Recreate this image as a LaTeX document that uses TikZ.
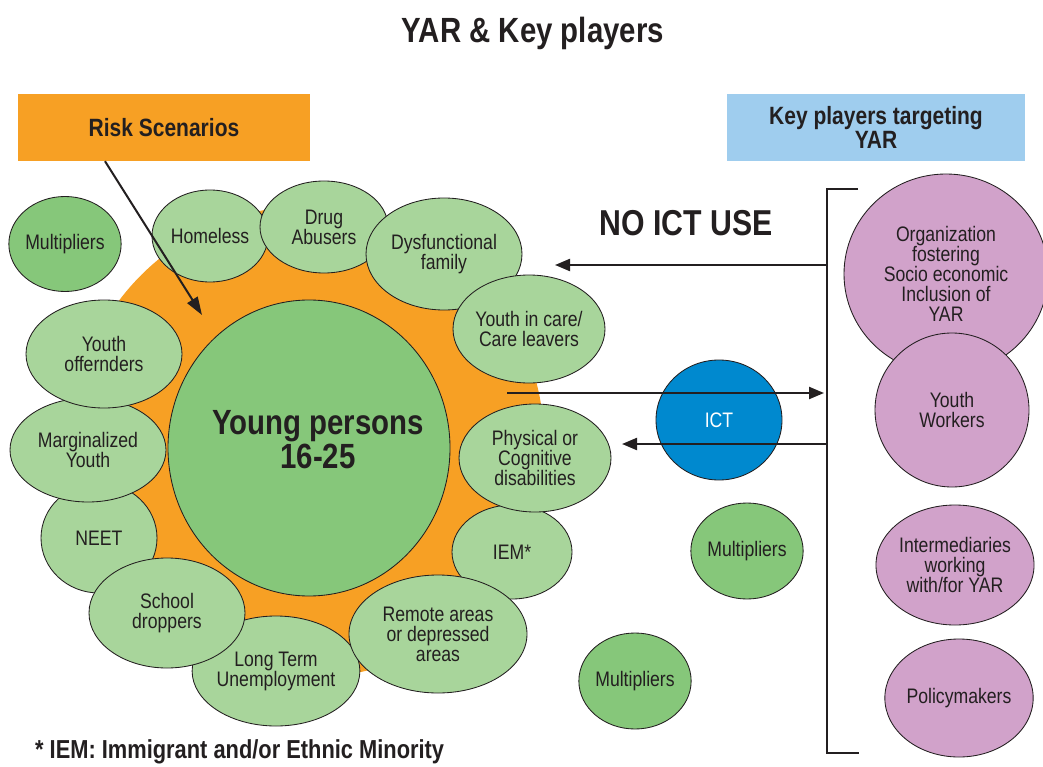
\documentclass[tikz,border=0pt]{standalone}
\usepackage{fontspec}
\setmainfont[FakeStretch=0.84]{Liberation Sans}
\usetikzlibrary{shapes.geometric,arrows.meta}
\definecolor{orangeC}{HTML}{F7A024}
\definecolor{lgreen}{HTML}{A8D59B}
\definecolor{dgreen}{HTML}{86C77A}
\definecolor{purp}{HTML}{D1A2CA}
\definecolor{blueC}{HTML}{0089CF}
\definecolor{lblue}{HTML}{9FCDEE}
\definecolor{txt}{HTML}{231F20}
\begin{document}
\begin{tikzpicture}[x=1pt,y=-1pt,
  bub/.style={ellipse, draw=txt, line width=0.85pt, inner sep=0pt, align=center,
              font=\fontsize{21}{20}\selectfont, text=txt},
  risk/.style={bub, fill=lgreen},
  mult/.style={bub, fill=dgreen},
  kp/.style={bub, fill=purp},
  hdr/.style={rectangle, inner sep=0pt, align=center, text=txt,
              font=\fontsize{25}{24}\selectfont\bfseries},
  arr/.style={line width=2.2pt, draw=txt, -{Triangle[length=15pt,width=12pt]}},
  bigtxt/.style={align=center, text=txt, inner sep=0pt}
]
\useasboundingbox (0,0) rectangle (1043,767);
\fill[white] (0,0) rectangle (1043,767);

% title
\node[bigtxt, font=\fontsize{35}{35}\selectfont\bfseries] (title) at (533,33) {YAR \& Key players};

% header boxes
\node[hdr, fill=orangeC, minimum width=292pt, minimum height=67pt] (riskbox) at (164,127.5) {Risk Scenarios};
\node[hdr, fill=lblue, minimum width=298pt, minimum height=67pt] (keybox) at (876,127.5) {Key players targeting\\YAR};

% orange background circle and young persons
\node[circle, fill=orangeC, minimum size=472pt, inner sep=0pt] (orangeBg) at (308,442) {};
\node[mult, minimum width=282pt, minimum height=296pt] (young) at (309,448) {};
\node[bigtxt, font=\fontsize{35}{34}\selectfont\bfseries] (youngtxt) at (318,440) {Young persons\\16-25};

% risk scenario bubbles
\node[mult, minimum width=94pt, minimum height=95pt] (mulTL) at (65,244) {Multipliers};
\node[risk, minimum width=116pt, minimum height=92pt] (homeless) at (210,236) {Homeless};
\node[risk, minimum width=128pt, minimum height=92pt] (drug) at (324,227) {Drug\\Abusers};
\node[risk, minimum width=156pt, minimum height=112pt] (dysf) at (444,254) {Dysfunctional\\family};
\node[risk, minimum width=152pt, minimum height=108pt] (care) at (529,329) {Youth in care/\\Care leavers};
\node[risk, minimum width=120pt, minimum height=94pt] (iem) at (512,552) {IEM*};
\node[risk, minimum width=152pt, minimum height=108pt] (phys) at (535,458) {Physical or\\Cognitive\\disabilities};
\node[risk, minimum width=156pt, minimum height=110pt] (longterm) at (276,671) {Long Term\\Unemployment};
\node[risk, minimum width=178pt, minimum height=118pt] (remote) at (438,634) {Remote areas\\or depressed\\areas};
\node[risk, minimum width=116pt, minimum height=110pt] (neet) at (99,538) {NEET};
\node[risk, minimum width=156pt, minimum height=110pt] (school) at (167,613) {School\\droppers};
\node[risk, minimum width=156pt, minimum height=104pt] (marg) at (88,450) {Marginalized\\Youth};
\node[risk, minimum width=156pt, minimum height=108pt] (offend) at (104,354) {Youth\\offernders};

% risk arrow
\coordinate (riskTip) at (202,315);
\draw[line width=2pt, draw=txt, -{Triangle[length=18pt,width=12pt]}] ([xshift=-59pt]riskbox.south) -- (riskTip);

% middle
\node[bub, fill=blueC, text=white, minimum width=126pt, minimum height=120pt] (ict) at (719,420) {ICT};
\node[mult, minimum width=104pt, minimum height=96pt] (mulM) at (747,551) {Multipliers};
\node[mult, minimum width=104pt, minimum height=96pt] (mulB) at (635,681) {Multipliers};

\node[bigtxt, font=\fontsize{36}{36}\selectfont\bfseries] (noict) at (686,223) {NO ICT USE};

% key players
\node[kp, minimum width=204pt, minimum height=200pt] (org) at (946,274) {Organization\\fostering\\Socio economic\\Inclusion of\\YAR};
\node[kp, minimum width=154pt, minimum height=154pt] (yw) at (952,410) {Youth\\Workers};
\node[kp, minimum width=142pt, minimum height=120pt] (inter) at (955,565) {Intermediaries\\working\\with/for YAR};
\node[kp, minimum width=134pt, minimum height=118pt] (policy) at (959,698) {Policymakers};

% bracket
\coordinate (brTop) at (858,189);
\coordinate (brTL) at (827,189);
\coordinate (brBL) at (827,753);
\coordinate (brBot) at (859,753);
\draw[line width=2.2pt, draw=txt] (brTop) -- (brTL) -- (brBL) -- (brBot);

% arrows
\coordinate (a1s) at (827,265);
\coordinate (a1e) at (555,265);
\coordinate (a2s) at (507,393);
\coordinate (a2e) at (824,393);
\coordinate (a3s) at (827,444);
\coordinate (a3e) at (622,444);
\draw[arr] (a1s) -- (a1e);
\draw[arr] (a2s) -- (a2e);
\draw[arr] (a3s) -- (a3e);

% footnote
\node[bigtxt, anchor=west, font=\fontsize{26}{26}\selectfont\bfseries] (foot) at (35,752) {* IEM: Immigrant and/or Ethnic Minority};
\end{tikzpicture}
\end{document}
